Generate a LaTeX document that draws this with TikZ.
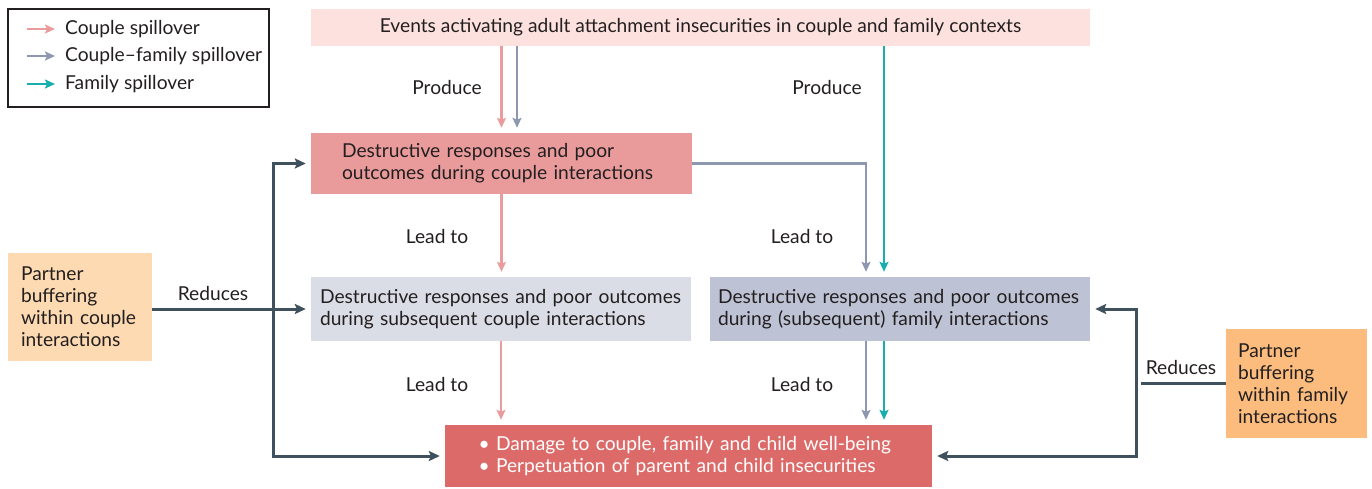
\documentclass[tikz,border=0pt]{standalone}
\usepackage{fontspec}
\setmainfont{Lato}
\usetikzlibrary{arrows.meta}
\definecolor{eventcolor}{HTML}{FDE1DE}
\definecolor{couplecolor}{HTML}{E99B9B}
\definecolor{latercolor}{HTML}{DADDE6}
\definecolor{familycolor}{HTML}{BDC2D4}
\definecolor{damagecolor}{HTML}{DB6A69}
\definecolor{bufferlight}{HTML}{FDDAB1}
\definecolor{bufferdark}{HTML}{FBBC7E}
\definecolor{couplearrow}{HTML}{EA9C9C}
\definecolor{mixedarrow}{HTML}{8E97B0}
\definecolor{familyarrow}{HTML}{16AFAD}
\definecolor{reducecolor}{HTML}{3E515D}
\definecolor{inkcolor}{HTML}{231F20}
\tikzstyle{stage} = [
    rectangle,
    inner ysep=0pt,
    align=left,
    text=inkcolor,
    font=\fontsize{19.2}{22}\selectfont
    ]
\tikzstyle{tag} = [text=inkcolor, font=\fontsize{19.2}{22}\selectfont]
\tikzstyle{spill} = [line width=2.5pt, -{Stealth[length=10pt,width=9pt,inset=2pt]}, shorten >=5pt]
\tikzstyle{couple} = [spill, couplearrow]
\tikzstyle{mixed} = [spill, mixedarrow]
\tikzstyle{family} = [spill, familyarrow]
\tikzstyle{reduce} = [line width=3pt, reducecolor, -{Stealth[length=11pt,width=10pt,inset=2pt]}, shorten >=5pt]

\begin{document}
\begin{tikzpicture}[x=1pt,y=-1pt]
\useasboundingbox (0,0) rectangle (1372,488);

% legend
\node[draw=inkcolor, line width=1.2pt, minimum width=261pt, minimum height=98pt] (legend) at (138.5,58) {};
\foreach \y/\kind/\label in {29/couple/Couple spillover, 56/mixed/Couple--family spillover, 84/family/Family spillover}{
    \draw[\kind, shorten >=0pt] (27,\y) -- (55,\y);
    \node[tag, anchor=west, inner sep=0pt] at (65,\y) {\label};
}

% boxes
\node[stage, fill=eventcolor, minimum width=779pt, minimum height=37pt, align=center] (top) at (700.5,27.5)
    {Events activating adult attachment insecurities in couple and family contexts};
\node[stage, fill=couplecolor, minimum height=61pt, text width=319pt, inner xsep=31pt] (b1) at (501.5,163.5)
    {Destructive responses and poor\\outcomes during couple interactions};
\node[stage, fill=latercolor, minimum height=64pt, text width=362pt, inner xsep=9pt] (b2) at (501,309)
    {Destructive responses and poor outcomes\\during subsequent couple interactions};
\node[stage, fill=familycolor, minimum height=64pt, text width=364pt, inner xsep=8pt] (b3) at (900,309)
    {Destructive responses and poor outcomes\\during (subsequent) family interactions};
\node[stage, fill=damagecolor, text=white, minimum height=62pt, text width=420pt, inner xsep=33.5pt] (b4) at (688.5,456)
    {\textbullet\ Damage to couple, family and child well-being\\\textbullet\ Perpetuation of parent and child insecurities};
\node[stage, fill=bufferlight, minimum height=108pt, text width=118pt, inner xsep=13pt] (bufa) at (80,307)
    {Partner\\buffering\\within couple\\interactions};
\node[stage, fill=bufferdark, minimum height=109pt, text width=117pt, inner xsep=12pt] (bufb) at (1296.5,383.5)
    {Partner\\buffering\\within family\\interactions};

% columns for the spillover lines and the buffering buses
\coordinate (pairx) at (517,0);
\coordinate (mixx) at (866,0);
\coordinate (famx) at (884,0);
\coordinate (lbus) at (273,0);
\coordinate (rbus) at (1136,0);

% spillover
\draw[couple] (top.south -| b1.north) -- (b1.north);
\draw[couple] (b1.south) -- (b1.south |- b2.north);
\draw[couple] (b2.south) -- (b2.south |- b4.north);
\draw[mixed] (top.south -| pairx) -- (b1.north -| pairx);
\draw[mixed] (b1.east) -| (b3.north -| mixx);
\draw[mixed] (b3.south -| mixx) -- (b4.north -| mixx);
\draw[family] (top.south -| famx) -- (b3.north -| famx);
\draw[family] (b3.south -| famx) -- (b4.north -| famx);

% buffering
\draw[reduce] (bufa.east |- b2.west) -- (b2.west);
\draw[reduce] (b4.west -| lbus) |- (b1.west);
\draw[reduce] (b1.west -| lbus) |- (b4.west);
\draw[reduce, -] (bufb.west) -- (bufb.west -| rbus);
\draw[reduce] (b4.east -| rbus) |- (b3.east);
\draw[reduce] (b3.east -| rbus) |- (b4.east);

% labels
\node[tag] (produce1) at (447,88) {Produce};
\node[tag] (produce2) at (827,88) {Produce};
\node[tag] (lead1) at (437,236) {Lead to};
\node[tag] (lead2) at (802,236) {Lead to};
\node[tag] (lead3) at (437,384) {Lead to};
\node[tag] (lead4) at (802,384) {Lead to};
\node[tag] (reduce1) at (213,293) {Reduces};
\node[tag] (reduce2) at (1181,367) {Reduces};
\end{tikzpicture}
\end{document}
